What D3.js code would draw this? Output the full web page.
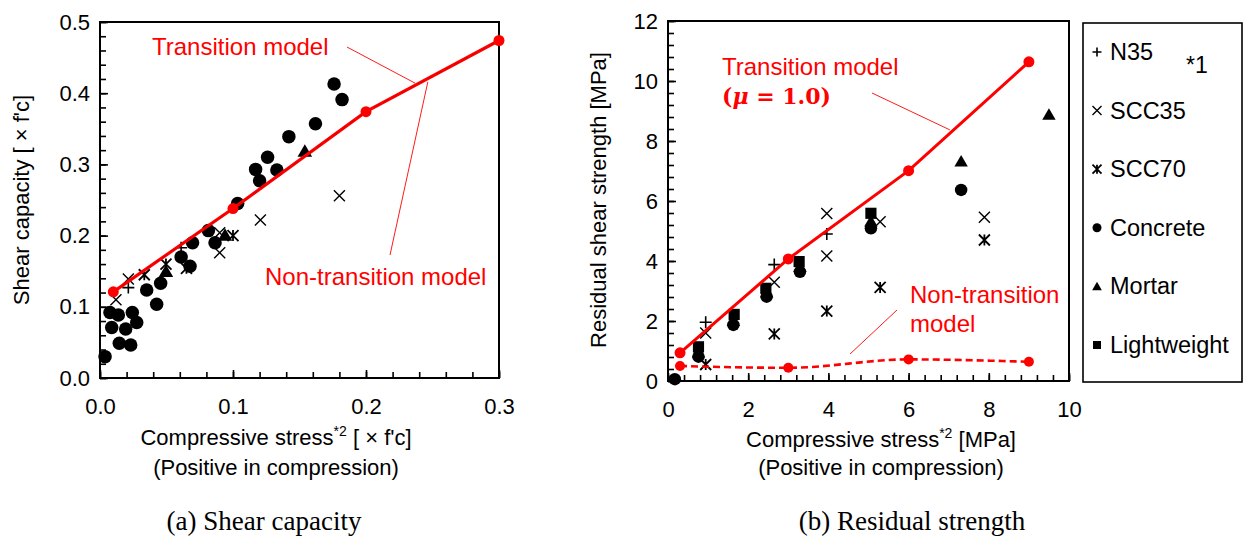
<!DOCTYPE html>
<html>
<head>
<meta charset="utf-8">
<script src="https://cdn.jsdelivr.net/npm/d3@7"></script>
<style>
  html, body { margin: 0; padding: 0; background: #fff; }
  svg { display: block; font-family: "Liberation Sans", Arial, sans-serif; }
</style>
</head>
<body>
<svg id="chart" width="1245" height="545"></svg>
<script>
// ---------- (a) Shear capacity: data [compressive stress ×f'c, shear capacity ×f'c] ----------
const aN35 = [[0.0213, 0.127], [0.061, 0.183]];
const aSCC35 = [[0.012, 0.110], [0.0213, 0.139], [0.090, 0.204], [0.090, 0.176], [0.1206, 0.222], [0.180, 0.256]];
const aSCC70 = [[0.0333, 0.145], [0.0496, 0.160], [0.065, 0.154], [0.100, 0.200]];
const aConcrete = [
  [0.0038, 0.030], [0.0088, 0.071], [0.0075, 0.092], [0.0138, 0.0885], [0.0145, 0.0487],
  [0.0193, 0.0688], [0.0231, 0.0463], [0.0243, 0.092], [0.0276, 0.078], [0.0351, 0.1236],
  [0.0426, 0.1035], [0.0456, 0.133], [0.061, 0.170], [0.0677, 0.157], [0.0696, 0.190],
  [0.0815, 0.207], [0.0865, 0.190], [0.1035, 0.245], [0.117, 0.293], [0.120, 0.277],
  [0.126, 0.310], [0.133, 0.292], [0.142, 0.339], [0.162, 0.357], [0.176, 0.413], [0.182, 0.391]
];
const aMortar = [[0.0496, 0.149], [0.094, 0.200], [0.154, 0.318]];
const aModelX = [0.01, 0.1, 0.2, 0.3];
const aModelY = [0.121, 0.238, 0.374, 0.474];
const aTickX = [0, 0.1, 0.2, 0.3];
const aTickY = [0, 0.1, 0.2, 0.3, 0.4, 0.5];

// ---------- (b) Residual strength: data [compressive stress MPa, residual shear strength MPa] ----------
const bN35 = [[0.94, 1.96], [2.65, 3.88], [3.96, 4.90]];
const bSCC35 = [[0.94, 1.60], [2.65, 3.29], [3.96, 5.58], [3.96, 4.17], [5.29, 5.31], [7.89, 5.46]];
const bSCC70 = [[0.94, 0.55], [2.65, 1.57], [3.96, 2.33], [5.29, 3.12], [7.89, 4.70]];
const bConcrete = [[0.17, 0.06], [0.76, 0.81], [1.63, 1.87], [2.46, 2.81], [3.29, 3.64], [5.06, 5.09], [7.31, 6.37]];
const bMortar = [[0.76, 0.95], [1.63, 2.00], [2.46, 2.95], [3.29, 3.80], [5.06, 5.31], [7.31, 7.31], [9.50, 8.87]];
const bLightweight = [[0.76, 1.14], [1.65, 2.22], [2.44, 3.09], [3.27, 3.98], [5.06, 5.59]];
const bModelX = [0.3, 3, 6, 9];
const bTransitionY = [0.94, 4.07, 7.01, 10.64];
const bNonTransitionY = [0.50, 0.44, 0.72, 0.64];
const bTickX = [0, 2, 4, 6, 8, 10];
const bTickY = [0, 2, 4, 6, 8, 10, 12];

const legendNames = ["N35", "SCC35", "SCC70", "Concrete", "Mortar", "Lightweight"];
const legendShapes = ["plus", "cross", "star", "circle", "triangle", "square"];

const RED = "#ff0000";
const svg = d3.select("#chart");

// marker drawing: open strokes for +, ×, * ; filled circle / triangle / square
function drawMarker(g, shape, cx, cy, s) {
  const h = s / 2;
  if (shape === "plus") {
    g.append("path").attr("d", `M${cx - h},${cy}H${cx + h}M${cx},${cy - h}V${cy + h}`)
      .attr("stroke", "#000").attr("stroke-width", 1.6).attr("fill", "none");
  } else if (shape === "cross") {
    g.append("path").attr("d", `M${cx - h},${cy - h}L${cx + h},${cy + h}M${cx - h},${cy + h}L${cx + h},${cy - h}`)
      .attr("stroke", "#000").attr("stroke-width", 1.4).attr("fill", "none");
  } else if (shape === "star") {
    g.append("path").attr("d", `M${cx - h},${cy - h}L${cx + h},${cy + h}M${cx - h},${cy + h}L${cx + h},${cy - h}M${cx},${cy - h}V${cy + h}`)
      .attr("stroke", "#000").attr("stroke-width", 1.8).attr("fill", "none");
  } else {
    const type = shape === "circle" ? d3.symbolCircle : shape === "triangle" ? d3.symbolTriangle : d3.symbolSquare;
    const area = shape === "circle" ? Math.PI * h * h : shape === "triangle" ? s * s * 0.5 : s * s * 0.8;
    g.append("path").attr("d", d3.symbol().type(type).size(area)())
      .attr("transform", `translate(${cx},${shape === "triangle" ? cy + 1 : cy})`).attr("fill", "#000");
  }
}

function frameAndAxes(x, y, xTicks, yTicks, xMinor, yMinor, xFmt, yFmt, labelGapY) {
  const [x0, x1] = x.range();
  const [y0, y1] = y.range();
  const g = svg.append("g");
  // minor ticks
  g.append("g").attr("transform", `translate(0,${y0})`)
    .call(d3.axisBottom(x).tickValues(xMinor).tickSize(-6).tickFormat(""))
    .call(a => a.select(".domain").remove())
    .selectAll("line").attr("stroke", "#000").attr("stroke-width", 1.6);
  g.append("g").attr("transform", `translate(${x0},0)`)
    .call(d3.axisLeft(y).tickValues(yMinor).tickSize(-6).tickFormat(""))
    .call(a => a.select(".domain").remove())
    .selectAll("line").attr("stroke", "#000").attr("stroke-width", 1.6);
  // major ticks with labels
  const ax = g.append("g").attr("transform", `translate(0,${y0})`)
    .call(d3.axisBottom(x).tickValues(xTicks).tickSize(-8).tickPadding(20).tickFormat(xFmt));
  ax.select(".domain").remove();
  ax.selectAll("line").attr("stroke", "#000").attr("stroke-width", 1.6);
  ax.selectAll("text").attr("font-size", 22).attr("fill", "#000")
    .attr("font-family", "Liberation Sans, Arial, sans-serif");
  const ay = g.append("g").attr("transform", `translate(${x0},0)`)
    .call(d3.axisLeft(y).tickValues(yTicks).tickSize(-8).tickPadding(labelGapY).tickFormat(yFmt));
  ay.select(".domain").remove();
  ay.selectAll("line").attr("stroke", "#000").attr("stroke-width", 1.6);
  ay.selectAll("text").attr("font-size", 22).attr("fill", "#000")
    .attr("font-family", "Liberation Sans, Arial, sans-serif");
  // plot frame
  g.append("rect").attr("x", x0).attr("y", y1).attr("width", x1 - x0).attr("height", y0 - y1)
    .attr("fill", "none").attr("stroke", "#000").attr("stroke-width", 2);
}

function range(a, b, step) {
  const out = [];
  const n = Math.round((b - a) / step);
  for (let i = 0; i <= n; i++) out.push(+(a + i * step).toFixed(6));
  return out;
}

// ================= (a) =================
const ax = d3.scaleLinear().domain([0, 0.3]).range([100, 499]);
const ay = d3.scaleLinear().domain([0, 0.5]).range([378, 22]);
frameAndAxes(ax, ay, aTickX, aTickY, range(0, 0.3, 0.02), range(0, 0.5, 0.02),
  d3.format(".1f"), d3.format(".1f"), 10);

const aPlot = svg.append("g");
aN35.forEach(d => drawMarker(aPlot, "plus", ax(d[0]), ay(d[1]), 12));
aSCC35.forEach(d => drawMarker(aPlot, "cross", ax(d[0]), ay(d[1]), 11));
aSCC70.forEach(d => drawMarker(aPlot, "star", ax(d[0]), ay(d[1]), 11));
aConcrete.forEach(d => drawMarker(aPlot, "circle", ax(d[0]), ay(d[1]), 13.5));
aMortar.forEach(d => drawMarker(aPlot, "triangle", ax(d[0]), ay(d[1]), 13.5));

const aModel = aModelX.map((v, i) => [v, aModelY[i]]);
const aLine = d3.line().x(d => ax(d[0])).y(d => ay(d[1]));
// non-transition model coincides with the transition model in (a)
aPlot.append("path").attr("d", aLine(aModel)).attr("fill", "none")
  .attr("stroke", RED).attr("stroke-width", 3.2);
aPlot.append("path").attr("d", aLine(aModel)).attr("fill", "none")
  .attr("stroke", "#e00000").attr("stroke-width", 1.2).attr("stroke-dasharray", "6,4");
aModel.forEach(d => aPlot.append("circle").attr("cx", ax(d[0])).attr("cy", ay(d[1])).attr("r", 5.5).attr("fill", RED));

// annotations (a)
const aNote = svg.append("g").attr("fill", RED).attr("font-size", 24);
aNote.append("text").attr("x", 152).attr("y", 55).text("Transition model");
aNote.append("text").attr("x", 265).attr("y", 285).text("Non-transition model");
aNote.append("line").attr("x1", 347).attr("y1", 47).attr("x2", ax(0.237)).attr("y2", ay(0.414))
  .attr("stroke", RED).attr("stroke-width", 0.9);
aNote.append("line").attr("x1", ax(0.2465)).attr("y1", ay(0.416)).attr("x2", 390).attr("y2", 255)
  .attr("stroke", RED).attr("stroke-width", 0.9);

// axis titles (a)
svg.append("text").attr("transform", "translate(29,200) rotate(-90)").attr("text-anchor", "middle")
  .attr("font-size", 22).text("Shear capacity [ × f'c]");
const aXT = svg.append("text").attr("x", 276).attr("y", 445).attr("text-anchor", "middle").attr("font-size", 22);
aXT.append("tspan").text("Compressive stress");
aXT.append("tspan").attr("font-size", 14).attr("dy", -9).text("*2");
aXT.append("tspan").attr("dy", 9).text(" [ × f'c]");
svg.append("text").attr("x", 276).attr("y", 475).attr("text-anchor", "middle").attr("font-size", 22)
  .text("(Positive in compression)");
svg.append("text").attr("x", 264).attr("y", 530).attr("text-anchor", "middle").attr("font-size", 27)
  .attr("font-family", "Liberation Serif, Times New Roman, serif").text("(a) Shear capacity");

// ================= (b) =================
const bx = d3.scaleLinear().domain([0, 10]).range([668, 1069]);
const by = d3.scaleLinear().domain([0, 12]).range([381, 21]);
frameAndAxes(bx, by, bTickX, bTickY, range(0, 10, 0.4), range(0, 12, 0.4),
  d3.format("d"), d3.format("d"), 10);

const bPlot = svg.append("g");
bLightweight.forEach(d => drawMarker(bPlot, "square", bx(d[0]), by(d[1]), 12.5));
bMortar.forEach(d => drawMarker(bPlot, "triangle", bx(d[0]), by(d[1]), 12.5));
bConcrete.forEach(d => drawMarker(bPlot, "circle", bx(d[0]), by(d[1]), 12.5));
bN35.forEach(d => drawMarker(bPlot, "plus", bx(d[0]), by(d[1]), 12));
bSCC35.forEach(d => drawMarker(bPlot, "cross", bx(d[0]), by(d[1]), 11));
bSCC70.forEach(d => drawMarker(bPlot, "star", bx(d[0]), by(d[1]), 11));

const bLine = d3.line().x(d => bx(d[0])).y(d => by(d[1]));
const bTrans = bModelX.map((v, i) => [v, bTransitionY[i]]);
const bNon = bModelX.map((v, i) => [v, bNonTransitionY[i]]);
bPlot.append("path").attr("d", bLine(bTrans)).attr("fill", "none").attr("stroke", RED).attr("stroke-width", 3);
bTrans.forEach(d => bPlot.append("circle").attr("cx", bx(d[0])).attr("cy", by(d[1])).attr("r", 5.5).attr("fill", RED));
bPlot.append("path").attr("d", d3.line().curve(d3.curveMonotoneX).x(d => bx(d[0])).y(d => by(d[1]))(bNon))
  .attr("fill", "none").attr("stroke", RED).attr("stroke-width", 2.6).attr("stroke-dasharray", "7,4");
bNon.forEach(d => bPlot.append("circle").attr("cx", bx(d[0])).attr("cy", by(d[1])).attr("r", 5).attr("fill", RED));

// annotations (b)
const bNote = svg.append("g").attr("fill", RED).attr("font-size", 24);
bNote.append("text").attr("x", 722).attr("y", 75).text("Transition model");
const mu = bNote.append("text").attr("x", 722).attr("y", 104).attr("font-size", 22)
  .attr("font-weight", "bold").attr("font-family", "DejaVu Serif, Liberation Serif, serif");
mu.append("tspan").text("(");
mu.append("tspan").attr("font-style", "italic").text("μ");
mu.append("tspan").text(" = 1.0)");
bNote.append("line").attr("x1", 872).attr("y1", 93).attr("x2", bx(7.03)).attr("y2", by(8.37))
  .attr("stroke", RED).attr("stroke-width", 0.9);
bNote.append("text").attr("x", 910).attr("y", 303).text("Non-transition");
bNote.append("text").attr("x", 910).attr("y", 332).text("model");
bNote.append("line").attr("x1", 897).attr("y1", 310).attr("x2", bx(4.54)).attr("y2", by(0.9))
  .attr("stroke", RED).attr("stroke-width", 0.9);

// axis titles (b)
svg.append("text").attr("transform", "translate(606,200) rotate(-90)").attr("text-anchor", "middle")
  .attr("font-size", 22).text("Residual shear strength [MPa]");
const bXT = svg.append("text").attr("x", 881).attr("y", 447).attr("text-anchor", "middle").attr("font-size", 22);
bXT.append("tspan").text("Compressive stress");
bXT.append("tspan").attr("font-size", 14).attr("dy", -9).text("*2");
bXT.append("tspan").attr("dy", 9).text(" [MPa]");
svg.append("text").attr("x", 881).attr("y", 475).attr("text-anchor", "middle").attr("font-size", 22)
  .text("(Positive in compression)");
svg.append("text").attr("x", 912).attr("y", 530).attr("text-anchor", "middle").attr("font-size", 27)
  .attr("font-family", "Liberation Serif, Times New Roman, serif").text("(b) Residual strength");

// ---------- legend ----------
const leg = svg.append("g");
leg.append("rect").attr("x", 1083).attr("y", 23).attr("width", 159).attr("height", 359)
  .attr("fill", "#fff").attr("stroke", "#000").attr("stroke-width", 1.6);
const legY = d3.scalePoint().domain(legendNames).range([52, 345]);
legendNames.forEach((name, i) => {
  const yy = legY(name);
  drawMarker(leg, legendShapes[i], 1097, yy, 9);
  leg.append("text").attr("x", 1110).attr("y", yy + 8).attr("font-size", 23.5).text(name);
});
leg.append("text").attr("x", 1186).attr("y", 73).attr("font-size", 23).text("*1");
</script>
</body>
</html>
